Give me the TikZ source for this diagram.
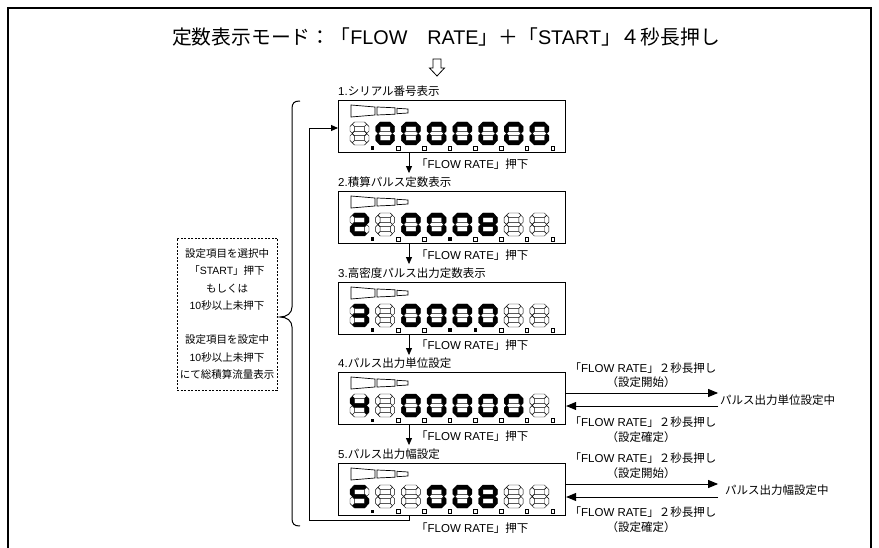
\documentclass[tikz,border=0pt]{standalone}
\usepackage{fontspec}
\setmainfont{Liberation Sans}
\newfontfamily\jp{Noto Sans CJK JP}
\usetikzlibrary{arrows.meta}
\newcommand\lt[1]{{\rmfamily #1}}
\newcommand\fr{「\lt{FLOW RATE}」}
\def\sth{2.2}
\newcommand\hsg[4]{\path[#1] ({#2-#4},#3) -- ({#2-#4+\sth},{#3-\sth}) -- ({#2+#4-\sth},{#3-\sth}) -- ({#2+#4},#3) -- ({#2+#4-\sth},{#3+\sth}) -- ({#2-#4+\sth},{#3+\sth}) -- cycle;}
\newcommand\vsg[4]{\path[#1] (#2,{#3-#4}) -- ({#2+\sth},{#3-#4+\sth}) -- ({#2+\sth},{#3+#4-\sth}) -- (#2,{#3+#4}) -- ({#2-\sth},{#3+#4-\sth}) -- ({#2-\sth},{#3-#4+\sth}) -- cycle;}
\def\sdigin#1#2#3#4#5#6#7\relax{%
 \hsg{s#1}{9.5}{2.2}{7.2}%
 \vsg{s#2}{16.8}{6.85}{4.5}%
 \vsg{s#3}{16.8}{16.15}{4.5}%
 \hsg{s#4}{9.5}{20.8}{7.2}%
 \vsg{s#5}{2.2}{16.15}{4.5}%
 \vsg{s#6}{2.2}{6.85}{4.5}%
 \hsg{s#7}{9.5}{11.5}{7.2}}
\newcommand\sdig[4]{\begin{scope}[shift={({#1},{#2})}]\expandafter\sdigin#3\relax\path[d#4] (20.9,24.5) rectangle ++(3.5,3.5);\end{scope}}
\newcommand\drow[2]{\foreach \p/\q [count=\i from 0] in {#2} {\sdig{350+\i*25.7}{#1+22}{\p}{\q}}}
\newcommand\bars[1]{%
 \draw[barln] (351,#1+5) -- (375,#1+7) -- (375,#1+15) -- (351,#1+17) -- cycle;
 \draw[barln] (377,#1+7) -- (395,#1+7.8) -- (395,#1+14.2) -- (377,#1+15) -- cycle;
 \draw[barln] (397,#1+8.3) -- (408,#1+9) -- (408,#1+13) -- (397,#1+13.7) -- cycle;}
\begin{document}
\begin{tikzpicture}[x=1pt,y=-1pt,
  s1/.style={fill=black,draw=black,line width=0.4pt},
  s0/.style={draw=black,fill=white,line width=0.45pt},
  d1/.style={fill=black},
  d0/.style={draw=black,fill=white,line width=0.5pt},
  barln/.style={line width=0.7pt},
  box/.style={draw,line width=1.1pt,minimum width=227pt,minimum height=52pt,anchor=north west,inner sep=0pt},
  lbl/.style={anchor=west,inner sep=0pt,font=\jp\fontsize{11.5}{12}\selectfont},
  txt/.style={inner sep=0pt,font=\jp\fontsize{11.5}{12}\selectfont},
  darr/.style={-{Triangle[length=7pt,width=6pt]},line width=0.8pt},
  harr/.style={-{Triangle[length=10pt,width=8pt]},line width=1pt},
  ln/.style={line width=0.9pt}]
\useasboundingbox (0,0) rectangle (879,548);
\begin{scope}
\clip (0,0) rectangle (879,548);
\draw[line width=1.3pt] (8,560) -- (8,8) -- (871,8) -- (871,560);
\end{scope}
% title
\node[inner sep=0pt,font=\jp\fontsize{19.8}{20}\selectfont] (title) at (446,37) {定数表示モード：「\lt{FLOW}　\lt{RATE}」＋「\lt{START}」４秒長押し};
\draw[line width=0.8pt] (433,59) -- (441,59) -- (441,68) -- (444.5,68) -- (437,76) -- (429.5,68) -- (433,68) -- cycle;
\coordinate (ax) at (409,0);
% boxes
\node[box] (b1) at (338,100) {};
\node[box] (b2) at (338,191) {};
\node[box] (b3) at (338,282) {};
\node[box] (b4) at (338,372) {};
\node[box] (b5) at (338,463) {};
\node[lbl] (l1) at (338,91) {\lt{1.}シリアル番号表示};
\node[lbl] (l2) at (338,182) {\lt{2.}積算パルス定数表示};
\node[lbl] (l3) at (338,273) {\lt{3.}高密度パルス出力定数表示};
\node[lbl] (l4) at (338,363) {\lt{4.}パルス出力単位設定};
\node[lbl] (l5) at (338,454) {\lt{5.}パルス出力幅設定};
\bars{100}\bars{191}\bars{282}\bars{372}\bars{463}
\drow{100}{0000000/1,1111110/0,1111110/0,1111110/0,1111110/0,1111110/0,1111110/0,1111110/0}
\drow{191}{1101101/1,0000000/0,1111110/0,1111110/1,1111110/0,1111111/0,0000000/0,0000000/0}
\drow{282}{1111001/1,0000000/0,1111110/0,1111110/1,1111110/1,1111110/0,0000000/0,0000000/0}
\drow{372}{0110011/1,0000000/0,1111110/0,1111110/0,1111110/0,1111110/0,1111110/0,0000000/0}
\drow{463}{1011011/1,0000000/0,0000000/0,1111110/0,1111110/0,1111111/0,0000000/0,0000000/0}
% down arrows
\draw[darr] (b1.south -| ax) -- ++(0,20);
\draw[darr] (b2.south -| ax) -- ++(0,20);
\draw[darr] (b3.south -| ax) -- ++(0,20);
\draw[darr] (b4.south -| ax) -- ++(0,20);
\node[lbl] (f1) at (416,164) {\fr 押下};
\node[lbl] (f2) at (416,255) {\fr 押下};
\node[lbl] (f3) at (416,345) {\fr 押下};
\node[lbl] (f4) at (416,436) {\fr 押下};
\node[lbl] (f5) at (416,528) {\fr 押下};
% loop back
\coordinate (lb) at (309,520);
\coordinate (lt) at (309,128);
\draw[ln,-{Triangle[length=7pt,width=6pt]}] (b5.south -| ax) |- (lb) -- (lt) -- (lt -| b1.west);
% brace
\draw[line width=1pt] (300,101) .. controls (294,101) and (292,103) .. (292,109) -- (292,307) .. controls (292,313) and (287,317) .. (280,317) .. controls (287,317) and (292,321) .. (292,327) -- (292,518) .. controls (292,524) and (294,526) .. (300,526);
% dashed note
\node[draw,dash pattern=on 2pt off 1.5pt,line width=0.9pt,minimum width=100pt,minimum height=152pt,inner sep=0pt,align=center,font=\jp\fontsize{10.5}{17.3}\selectfont] (note) at (227,314) {設定項目を選択中\\「\lt{START}」押下\\もしくは\\\lt{10}秒以上未押下\\[17pt]設定項目を設定中\\\lt{10}秒以上未押下\\にて総積算流量表示};
% right side box 4
\node[lbl] (m4) at (720,400) {パルス出力単位設定中};
\draw[harr] ([yshift=-21pt]b4.north east) -- ++(152,0) coordinate (t4);
\draw[harr] ([yshift=-34pt]b4.north east -| t4) -- ([yshift=-34pt]b4.north east);
\node[txt] (u4a) at (643,368) {\fr ２秒長押し};
\node[txt] (u4b) at (641,382) {（設定開始）};
\node[txt] (u4c) at (643,422) {\fr ２秒長押し};
\node[txt] (u4d) at (641,437) {（設定確定）};
% right side box 5
\node[lbl] (m5) at (725,490) {パルス出力幅設定中};
\draw[harr] ([yshift=-21pt]b5.north east) -- ++(152,0) coordinate (t5);
\draw[harr] ([yshift=-34pt]b5.north east -| t5) -- ([yshift=-34pt]b5.north east);
\node[txt] (u5a) at (643,458) {\fr ２秒長押し};
\node[txt] (u5b) at (641,473) {（設定開始）};
\node[txt] (u5c) at (643,512) {\fr ２秒長押し};
\node[txt] (u5d) at (641,527) {（設定確定）};
\end{tikzpicture}
\end{document}
